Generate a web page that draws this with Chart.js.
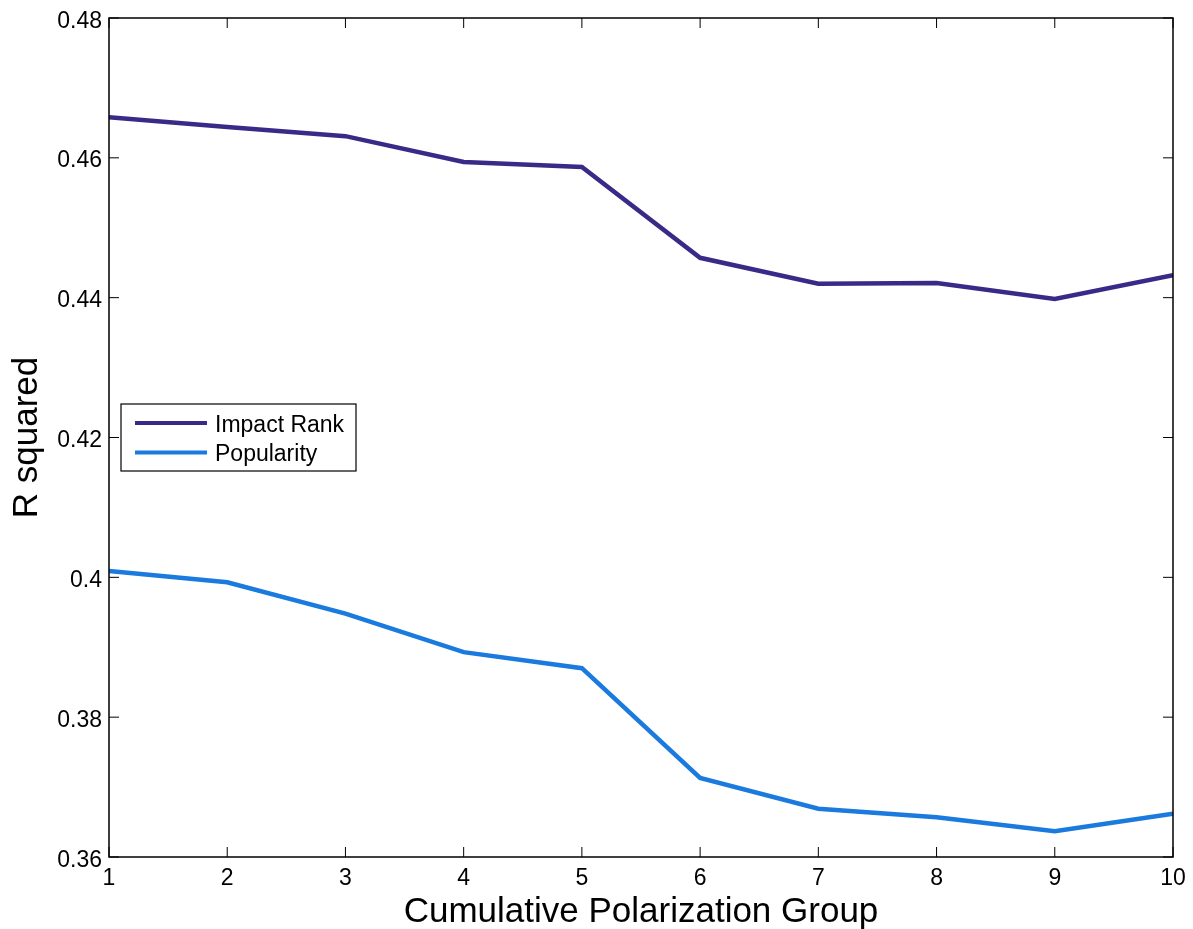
<!DOCTYPE html>
<html>
<head>
<meta charset="utf-8">
<script src="https://cdn.jsdelivr.net/npm/chart.js@4/dist/chart.umd.min.js"></script>
<style>
  html, body { margin: 0; padding: 0; background: #fff; }
  #wrap { width: 1193px; height: 929px; }
</style>
</head>
<body>
<div id="wrap"><canvas id="chart"></canvas></div>
<script>
const groups = [1, 2, 3, 4, 5, 6, 7, 8, 9, 10];
const impactRank = [0.4658, 0.4644, 0.4631, 0.4594, 0.4587, 0.4457, 0.4420, 0.4421, 0.4398, 0.4432];
const popularity = [0.4009, 0.3993, 0.3948, 0.3893, 0.3870, 0.3713, 0.3669, 0.3657, 0.3637, 0.3662];
const yTicks = [0.36, 0.38, 0.4, 0.42, 0.44, 0.46, 0.48];
const yTickLabels = ["0.36", "0.38", "0.4", "0.42", "0.44", "0.46", "0.48"];

const seriesNames = ["Impact Rank", "Popularity"];
const seriesColors = ["#3a2a88", "#1a7ade"];
const xTitle = "Cumulative Polarization Group";
const yTitle = "R squared";

const FONT = "'Liberation Sans', Arial, sans-serif";

function drawText(ctx, text, x, y, size, align, rot) {
  ctx.save();
  ctx.translate(x, y);
  if (rot) ctx.rotate(rot);
  ctx.font = size + "px " + FONT;
  ctx.fillStyle = "#000";
  ctx.textAlign = align;
  ctx.textBaseline = "alphabetic";
  ctx.fillText(text, 0, 0);
  ctx.restore();
}

// matlab style box with inward ticks, labels and a legend inside the plot
const boxPlugin = {
  id: "box",
  afterDraw(chart) {
    const { ctx, chartArea: a, scales } = chart;
    ctx.save();
    ctx.strokeStyle = "#000";
    ctx.lineWidth = 1.5;
    ctx.strokeRect(a.left, a.top, a.right - a.left, a.bottom - a.top);
    ctx.lineWidth = 1;
    const len = 10;
    groups.forEach(g => {
      const x = scales.x.getPixelForValue(g);
      ctx.beginPath();
      ctx.moveTo(x, a.bottom); ctx.lineTo(x, a.bottom - len);
      ctx.moveTo(x, a.top); ctx.lineTo(x, a.top + len);
      ctx.stroke();
      drawText(ctx, String(g), x, a.bottom + 28, 23, "center");
    });
    yTicks.forEach((v, i) => {
      const y = scales.y.getPixelForValue(v);
      ctx.beginPath();
      ctx.moveTo(a.left, y); ctx.lineTo(a.left + len, y);
      ctx.moveTo(a.right, y); ctx.lineTo(a.right - len, y);
      ctx.stroke();
      drawText(ctx, yTickLabels[i], a.left - 7, y + 9.5, 23, "right");
    });

    // axis titles
    drawText(ctx, xTitle, (a.left + a.right) / 2, 922, 35, "center");
    drawText(ctx, yTitle, 37, (a.top + a.bottom) / 2, 35, "center", -Math.PI / 2);

    // legend
    const lx = 121, ly = 404, lw = 235, lh = 67;
    ctx.fillStyle = "#fff";
    ctx.fillRect(lx, ly, lw, lh);
    ctx.strokeStyle = "#000";
    ctx.lineWidth = 1.2;
    ctx.strokeRect(lx, ly, lw, lh);
    seriesNames.forEach((name, i) => {
      const y = ly + 19 + i * 29.5;
      ctx.strokeStyle = seriesColors[i];
      ctx.lineWidth = 4;
      ctx.beginPath();
      ctx.moveTo(lx + 14, y); ctx.lineTo(lx + 86, y);
      ctx.stroke();
      drawText(ctx, name, lx + 94, y + 8.5, 23, "left");
    });
    ctx.restore();
  }
};

new Chart(document.getElementById("chart"), {
  type: "line",
  data: {
    labels: groups,
    datasets: [
      { label: seriesNames[0], data: impactRank, borderColor: seriesColors[0] },
      { label: seriesNames[1], data: popularity, borderColor: seriesColors[1] }
    ].map(d => ({
      ...d,
      data: d.data.map((v, i) => ({ x: groups[i], y: v })),
      borderWidth: 4.5,
      pointRadius: 0,
      tension: 0,
      fill: false
    }))
  },
  options: {
    responsive: true,
    maintainAspectRatio: false,
    animation: false,
    layout: { padding: { top: 18, right: 20, left: 0, bottom: 0 } },
    plugins: { legend: { display: false }, tooltip: { enabled: false } },
    scales: {
      x: {
        type: "linear",
        min: 1, max: 10,
        afterFit(s) { s.height = 72; },
        grid: { display: false, drawTicks: false },
        border: { display: false },
        ticks: { display: false }
      },
      y: {
        min: 0.36, max: 0.48,
        afterFit(s) { s.width = 109; },
        grid: { display: false, drawTicks: false },
        border: { display: false },
        ticks: { display: false }
      }
    }
  },
  plugins: [boxPlugin]
});
</script>
</body>
</html>
